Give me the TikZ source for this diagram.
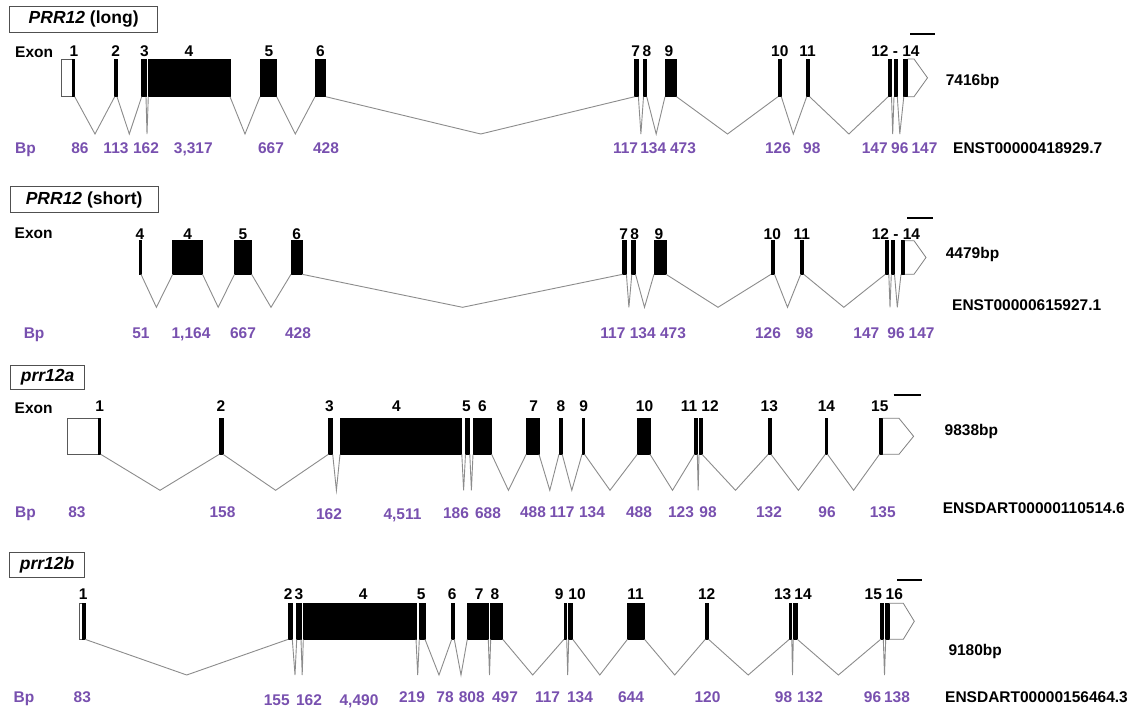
\documentclass[tikz,border=0pt]{standalone}
\usepackage{fontspec}
\setmainfont{Liberation Sans}
\definecolor{bpcol}{RGB}{120,80,175}
\definecolor{intcol}{RGB}{140,140,140}
\definecolor{boxcol}{RGB}{80,80,80}

% exon block, UTR block, intron V, exon number, size in bp
\newcommand\exn[3]{\node[exon,minimum width={#3-#2},anchor=south west] (#1) at (#2,\yb) {};}
\newcommand\utrbox[3]{\node[utr,minimum width={#3-#2},anchor=south west] (#1) at (#2,\yb) {};}
\newcommand\intr[3]{\coordinate (#1-#2) at (#3,\yv); \draw[intron] (#1.south east) -- (#1-#2) -- (#2.south west);}
\newcommand\elab[3]{\node[txt] (#1) at (#2,\yl) {#3};}
\newcommand\bpl[3]{\node[bpn] (#1) at (#2,\ybp) {#3};}
\newcommand\bplat[4]{\node[bpn] (#1) at (#2,#4) {#3};}
% 3' UTR arrow after the last exon: flat part, then point
\newcommand\pent[3]{\draw[utrline] (#1.north east) -- ++(#2,0) -- ++(#3,{(\yb-\yt)/2}) -- ++(-#3,{(\yb-\yt)/2}) -- (#1.south east);}

\begin{document}
\begin{tikzpicture}[x=1pt,y=-1pt,
  exon/.style={draw=black,fill=black,line width=0.7pt,inner sep=0,outer sep=0,minimum height={\yb-\yt}},
  utr/.style={draw=black!65,fill=white,line width=0.8pt,inner sep=0,outer sep=0,minimum height={\yb-\yt}},
  utrline/.style={draw=black!50,line width=0.8pt,line join=miter},
  intron/.style={draw=intcol,line width=0.9pt},
  txt/.style={font=\bfseries\fontsize{15.5}{15.5}\selectfont,inner sep=0,anchor=base},
  rlab/.style={txt,anchor=base west},
  bpn/.style={txt,text=bpcol},
  tbox/.style={draw=boxcol,line width=1pt,fill=white,inner sep=0,anchor=north west,font=\bfseries\fontsize{17.5}{17.5}\selectfont},
  sbar/.style={draw=black,line width=2.3pt}]

\fill[white] (0,0) rectangle (1141,708);
\useasboundingbox (0,0) rectangle (1141,708);

% ---------------- PRR12 (long) ----------------
\def\yt{59}\def\yb{96.7}\def\yv{134}\def\yl{57}\def\ybp{153.5}
\node[tbox,minimum width=147.7,minimum height=26.6] (ta) at (9.3,5.7) {\textit{PRR12} (long)};
\node[rlab] (exa) at (15,57.5) {Exon};
\node[rlab,text=bpcol] (bpa) at (15,153.5) {Bp};
\utrbox{a1u}{61}{72.3}
\exn{a1}{72.3}{74.7}
\exn{a2}{114.7}{117}
\exn{a3}{141.7}{146}
\exn{a4}{148.3}{230}
\exn{a5}{260}{276.7}
\exn{a6}{315}{325.8}
\exn{a7}{634.7}{638.4}
\exn{a8}{643.5}{646.7}
\exn{a9}{665}{676.5}
\exn{a10}{778}{781.3}
\exn{a11}{806.7}{809.6}
\exn{a12}{888.2}{891.5}
\exn{a13}{894}{897.3}
\exn{a14}{903.8}{907.5}
\pent{a14}{6.5}{13.5}
\intr{a1}{a2}{95}
\intr{a2}{a3}{129.3}
\intr{a3}{a4}{147}
\intr{a4}{a5}{245}
\intr{a5}{a6}{295.3}
\intr{a6}{a7}{480.7}
\intr{a7}{a8}{640.9}
\intr{a8}{a9}{656.2}
\intr{a9}{a10}{727.5}
\intr{a10}{a11}{793.3}
\intr{a11}{a12}{848.9}
\intr{a12}{a13}{892.7}
\intr{a13}{a14}{899.8}
\elab{la1}{74}{1}
\elab{la2}{115.6}{2}
\elab{la3}{144.4}{3}
\elab{la4}{189}{4}
\elab{la5}{269}{5}
\elab{la6}{320.4}{6}
\elab{la7}{635.8}{7}
\elab{la8}{647}{8}
\elab{la9}{669}{9}
\elab{la10}{779.8}{10}
\elab{la11}{807.5}{11}
\elab{la12}{895.5}{12 - 14}
\bpl{ba1}{80}{86}
\bpl{ba2}{116}{113}
\bpl{ba3}{146}{162}
\bpl{ba4}{193.3}{3,317}
\bpl{ba5}{271}{667}
\bpl{ba6}{326}{428}
\bpl{ba7}{625.6}{117}
\bpl{ba8}{653.3}{134}
\bpl{ba9}{683}{473}
\bpl{ba10}{778}{126}
\bpl{ba11}{811.8}{98}
\bpl{ba12}{874.7}{147}
\bpl{ba13}{899.8}{96}
\bpl{ba14}{924.5}{147}
\node[rlab] (lena) at (945.6,85.5) {7416bp};
\node[rlab] (ida) at (953,153.5) {ENST00000418929.7};
\draw[sbar] (910,33.7) -- (934.7,33.7);

% ---------------- PRR12 (short) ----------------
\def\yt{240.7}\def\yb{274.3}\def\yv{307.3}\def\yl{239.5}\def\ybp{338.8}
\node[tbox,minimum width=147.7,minimum height=26.6] (tb) at (9.8,185.7) {\textit{PRR12} (short)};
\node[rlab] (exb) at (14.5,238.8) {Exon};
\node[rlab,text=bpcol] (bpb) at (23.6,338.8) {Bp};
\exn{b3}{139.3}{141}
\exn{b4}{172.7}{202.5}
\exn{b5}{234.5}{251.6}
\exn{b6}{291}{302.2}
\exn{b7}{622.7}{626.4}
\exn{b8}{631.8}{635.5}
\exn{b9}{654}{666}
\exn{b10}{771}{774.5}
\exn{b11}{800.7}{803.7}
\exn{b12}{885.3}{888.8}
\exn{b13}{891.3}{894.5}
\exn{b14}{901}{904.5}
\pent{b14}{9.5}{12}
\intr{b3}{b4}{156.4}
\intr{b4}{b5}{218.2}
\intr{b5}{b6}{271}
\intr{b6}{b7}{462.5}
\intr{b7}{b8}{628.9}
\intr{b8}{b9}{644.5}
\intr{b9}{b10}{718}
\intr{b10}{b11}{787.5}
\intr{b11}{b12}{843.8}
\intr{b12}{b13}{890}
\intr{b13}{b14}{897.3}
\elab{lb3}{140}{4}
\elab{lb4}{187.6}{4}
\elab{lb5}{243}{5}
\elab{lb6}{296.7}{6}
\elab{lb7}{623.8}{7}
\elab{lb8}{634.7}{8}
\elab{lb9}{659}{9}
\elab{lb10}{772.3}{10}
\elab{lb11}{801.7}{11}
\elab{lb12}{896}{12 - 14}
\bpl{bb1}{141}{51}
\bpl{bb2}{191}{1,164}
\bpl{bb3}{243}{667}
\bpl{bb4}{298}{428}
\bpl{bb5}{612.9}{117}
\bpl{bb6}{642.7}{134}
\bpl{bb7}{673}{473}
\bpl{bb8}{768}{126}
\bpl{bb9}{804.5}{98}
\bpl{bb10}{866.4}{147}
\bpl{bb11}{896}{96}
\bpl{bb12}{921.6}{147}
\node[rlab] (lenb) at (945.6,258.8) {4479bp};
\node[rlab] (idb) at (952,310.5) {ENST00000615927.1};
\draw[sbar] (907.3,218.3) -- (932.7,218.3);

% ---------------- prr12a ----------------
\def\yt{418.3}\def\yb{454.3}\def\yv{490.3}\def\yl{412}\def\ybp{517.2}
\node[tbox,minimum width=74.6,minimum height=24] (tc) at (9.8,365) {\textit{prr12a}};
\node[rlab] (exc) at (14.5,413.2) {Exon};
\node[rlab,text=bpcol] (bpc) at (15,517.2) {Bp};
\utrbox{c1u}{67.6}{98.2}
\exn{c1}{98.2}{100.7}
\exn{c2}{219.3}{223}
\exn{c3}{328.4}{332.7}
\exn{c4}{340}{461.8}
\exn{c5}{465.5}{469.8}
\exn{c6}{473}{491.6}
\exn{c7}{526.2}{539}
\exn{c8}{559}{562.2}
\exn{c9}{582}{584.5}
\exn{c10}{637.3}{650}
\exn{c11}{694.4}{697.3}
\exn{c12}{699}{702}
\exn{c13}{768.2}{771}
\exn{c14}{825.3}{827.5}
\exn{c15}{879.5}{882.7}
\pent{c15}{16.3}{14.6}
\intr{c1}{c2}{160}
\intr{c2}{c3}{275.6}
\intr{c3}{c4}{336.4}
\intr{c4}{c5}{463.6}
\intr{c5}{c6}{471.4}
\intr{c6}{c7}{508.4}
\intr{c7}{c8}{549.8}
\intr{c8}{c9}{571.8}
\intr{c9}{c10}{610}
\intr{c10}{c11}{672.5}
\intr{c11}{c12}{698.2}
\intr{c12}{c13}{735.5}
\intr{c13}{c14}{798.4}
\intr{c14}{c15}{853.6}
\elab{lc1}{99.6}{1}
\elab{lc2}{221}{2}
\elab{lc3}{329.5}{3}
\elab{lc4}{396.4}{4}
\elab{lc5}{466.5}{5}
\elab{lc6}{482.5}{6}
\elab{lc7}{533.8}{7}
\elab{lc8}{561}{8}
\elab{lc9}{583.8}{9}
\elab{lc10}{644.5}{10}
\elab{lc11}{689}{11}
\elab{lc12}{710}{12}
\elab{lc13}{769.3}{13}
\elab{lc14}{826.4}{14}
\elab{lc15}{879.8}{15}
\bpl{bc1}{77}{83}
\bpl{bc2}{222.5}{158}
\bplat{bc3}{329}{162}{519.5}
\bplat{bc4}{402.5}{4,511}{519.5}
\bplat{bc5}{456}{186}{518.5}
\bplat{bc6}{488}{688}{518.5}
\bpl{bc7}{533}{488}
\bpl{bc8}{562}{117}
\bpl{bc9}{592}{134}
\bpl{bc10}{639}{488}
\bpl{bc11}{681}{123}
\bpl{bc12}{708}{98}
\bpl{bc13}{769}{132}
\bpl{bc14}{827}{96}
\bpl{bc15}{882.7}{135}
\node[rlab] (lenc) at (944.5,435.5) {9838bp};
\node[rlab] (idc) at (942.7,513.8) {ENSDART00000110514.6};
\draw[sbar] (893.6,395) -- (921.3,395);

% ---------------- prr12b ----------------
\def\yt{603.3}\def\yb{639.3}\def\yv{675}\def\yl{599.5}\def\ybp{702.2}
\node[tbox,minimum width=74.7,minimum height=25] (td) at (9.3,552) {\textit{prr12b}};
\node[rlab,text=bpcol] (bpd) at (13.5,702.2) {Bp};
\utrbox{d1u}{79.3}{82.3}
\exn{d1}{82.3}{85}
\exn{d2}{288.3}{292.3}
\exn{d3}{296.7}{301}
\exn{d4}{303.3}{416}
\exn{d5}{419.3}{425}
\exn{d6}{451.7}{454.3}
\exn{d7}{467.3}{488.3}
\exn{d8}{490.7}{502.7}
\exn{d9}{564}{566.7}
\exn{d10}{568.7}{572.7}
\exn{d11}{627.5}{644.5}
\exn{d12}{705.3}{708.5}
\exn{d13}{789.3}{791.8}
\exn{d14}{793.3}{797.3}
\exn{d15}{880.7}{883.3}
\exn{d16}{885.7}{889}
\pent{d16}{14.3}{11}
\intr{d1}{d2}{186.7}
\intr{d2}{d3}{295}
\intr{d3}{d4}{302.2}
\intr{d4}{d5}{417.7}
\intr{d5}{d6}{439}
\intr{d6}{d7}{461}
\intr{d7}{d8}{489.5}
\intr{d8}{d9}{532.7}
\intr{d9}{d10}{567.7}
\intr{d10}{d11}{599.8}
\intr{d11}{d12}{674.7}
\intr{d12}{d13}{748.2}
\intr{d13}{d14}{792.5}
\intr{d14}{d15}{838.4}
\intr{d15}{d16}{884.5}
\elab{ld1}{83.3}{1}
\elab{ld2}{288.3}{2}
\elab{ld3}{299}{3}
\elab{ld4}{363.3}{4}
\elab{ld5}{421.3}{5}
\elab{ld6}{452.3}{6}
\elab{ld7}{479.3}{7}
\elab{ld8}{495}{8}
\elab{ld9}{559.3}{9}
\elab{ld10}{577}{10}
\elab{ld11}{635.5}{11}
\elab{ld12}{706.7}{12}
\elab{ld13}{782.7}{13}
\elab{ld14}{803}{14}
\elab{ld15}{873.3}{15}
\elab{ld16}{894.3}{16}
\bpl{bd1}{82.3}{83}
\bplat{bd2}{276.7}{155}{705}
\bplat{bd3}{309}{162}{705}
\bplat{bd4}{359}{4,490}{705}
\bpl{bd5}{412}{219}
\bpl{bd6}{445}{78}
\bpl{bd7}{471.7}{808}
\bpl{bd8}{505}{497}
\bpl{bd9}{547.5}{117}
\bpl{bd10}{580}{134}
\bpl{bd11}{631}{644}
\bpl{bd12}{707.5}{120}
\bpl{bd13}{783.6}{98}
\bpl{bd14}{810}{132}
\bpl{bd15}{872.5}{96}
\bpl{bd16}{897}{138}
\node[rlab] (lend) at (948.3,655.5) {9180bp};
\node[rlab] (idd) at (945,702.2) {ENSDART00000156464.3};
\draw[sbar] (897.3,580) -- (921.7,580);

\end{tikzpicture}
\end{document}
